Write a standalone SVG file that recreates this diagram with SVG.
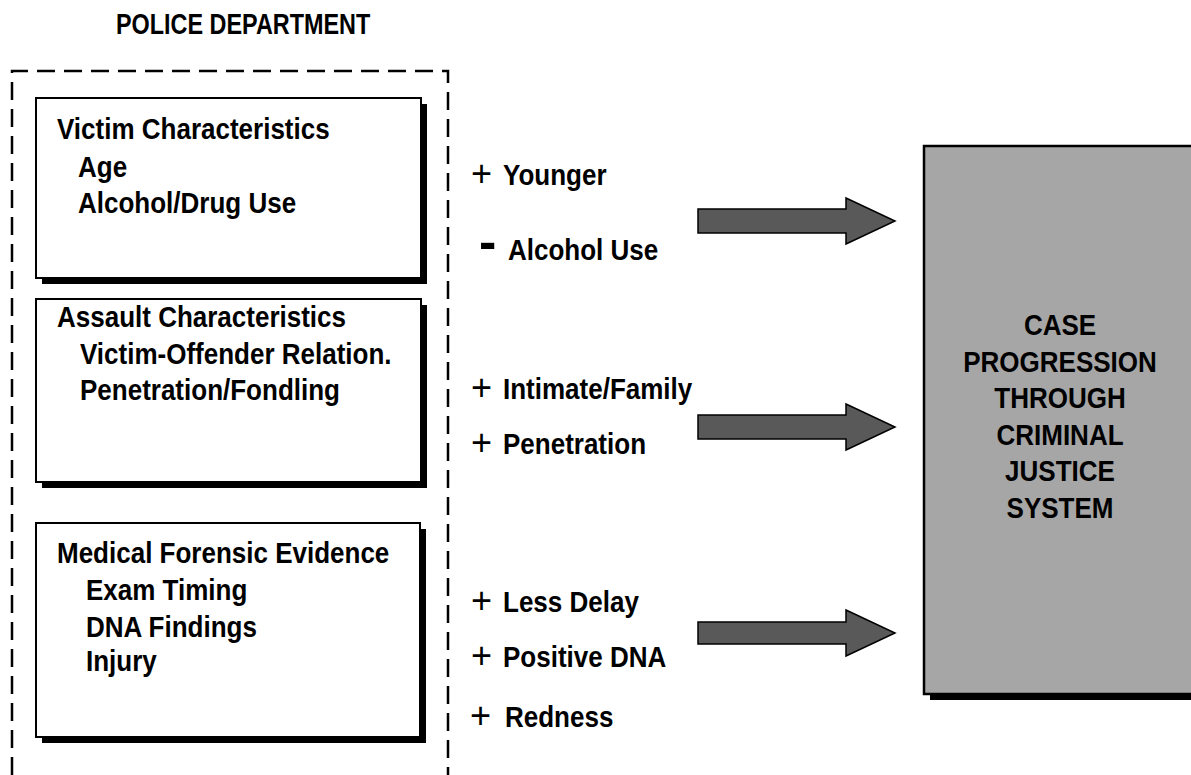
<svg xmlns="http://www.w3.org/2000/svg" width="1191" height="775" viewBox="0 0 1191 775">
  <style>
    .t { font-family: "Liberation Sans", Arial, Helvetica, sans-serif; font-weight: bold; font-size: 30px; fill: #000; }
    .sign { font-family: "Liberation Sans", Arial, Helvetica, sans-serif; font-size: 36px; fill: #000; }
    .minus { font-family: "Liberation Sans", Arial, Helvetica, sans-serif; font-weight: bold; font-size: 52px; fill: #000; }
    .box { fill: #fff; stroke: #000; stroke-width: 2; }
    .shadow { fill: #000; }
    .target { fill: #a6a6a6; stroke: #000; stroke-width: 2.5; }
    .arrow { fill: #595959; stroke: #000; stroke-width: 1.5; stroke-linejoin: miter; }
    .dept { fill: none; stroke: #000; stroke-width: 2.5; stroke-dasharray: 18 9; }
  </style>

  <rect width="1191" height="775" fill="#fff"/>

  <!-- police department boundary, open at the bottom -->
  <g id="police-department">
    <text class="t" transform="translate(116 34) scale(0.78 1)">POLICE DEPARTMENT</text>
    <path class="dept" d="M12,775 V71 H448 V775"/>
  </g>

  <!-- factor boxes -->
  <g id="victim-characteristics">
    <rect class="shadow" x="42" y="104" width="385" height="180"/>
    <rect class="box" x="36" y="98" width="385" height="180"/>
    <text class="t" transform="translate(57 139) scale(0.867 1)">Victim Characteristics</text>
    <text class="t" transform="translate(78 177) scale(0.867 1)">Age</text>
    <text class="t" transform="translate(78 213) scale(0.867 1)">Alcohol/Drug Use</text>
  </g>

  <g id="assault-characteristics">
    <rect class="shadow" x="42" y="305" width="385" height="183"/>
    <rect class="box" x="36" y="299" width="385" height="183"/>
    <text class="t" transform="translate(57 327) scale(0.867 1)">Assault Characteristics</text>
    <text class="t" transform="translate(80 364) scale(0.867 1)">Victim-Offender Relation.</text>
    <text class="t" transform="translate(80 400) scale(0.867 1)">Penetration/Fondling</text>
  </g>

  <g id="medical-forensic-evidence">
    <rect class="shadow" x="42" y="529" width="384" height="214"/>
    <rect class="box" x="36" y="523" width="384" height="214"/>
    <text class="t" transform="translate(57 563) scale(0.867 1)">Medical Forensic Evidence</text>
    <text class="t" transform="translate(86 600) scale(0.867 1)">Exam Timing</text>
    <text class="t" transform="translate(86 637) scale(0.867 1)">DNA Findings</text>
    <text class="t" transform="translate(86 671) scale(0.867 1)">Injury</text>
  </g>

  <!-- outcome box, running off the right edge -->
  <g id="case-progression">
    <rect class="shadow" x="930" y="152" width="280" height="548"/>
    <rect class="target" x="924" y="146" width="280" height="548"/>
    <g text-anchor="middle">
      <text class="t" transform="translate(1060 335) scale(0.867 1)">CASE</text>
      <text class="t" transform="translate(1060 371.5) scale(0.867 1)">PROGRESSION</text>
      <text class="t" transform="translate(1060 408) scale(0.867 1)">THROUGH</text>
      <text class="t" transform="translate(1060 444.5) scale(0.867 1)">CRIMINAL</text>
      <text class="t" transform="translate(1060 481) scale(0.867 1)">JUSTICE</text>
      <text class="t" transform="translate(1060 517.5) scale(0.867 1)">SYSTEM</text>
    </g>
  </g>

  <!-- effect labels -->
  <g id="victim-effects">
    <text class="sign" x="471" y="186">+</text>
    <text class="t" transform="translate(503 185) scale(0.867 1)">Younger</text>
    <text class="minus" x="479" y="259">-</text>
    <text class="t" transform="translate(508 260) scale(0.867 1)">Alcohol Use</text>
  </g>

  <g id="assault-effects">
    <text class="sign" x="471" y="400">+</text>
    <text class="t" transform="translate(503 399) scale(0.867 1)">Intimate/Family</text>
    <text class="sign" x="471" y="455">+</text>
    <text class="t" transform="translate(503 454) scale(0.867 1)">Penetration</text>
  </g>

  <g id="evidence-effects">
    <text class="sign" x="471" y="613">+</text>
    <text class="t" transform="translate(503 612) scale(0.867 1)">Less Delay</text>
    <text class="sign" x="471" y="668">+</text>
    <text class="t" transform="translate(503 667) scale(0.867 1)">Positive DNA</text>
    <text class="sign" x="470" y="728" font-size="42">+</text>
    <text class="t" transform="translate(505 727) scale(0.867 1)">Redness</text>
  </g>

  <!-- block arrows into the outcome box -->
  <g id="connectors">
    <polygon class="arrow" points="698,209 846,209 846,198 895,221 846,244 846,233 698,233"/>
    <polygon class="arrow" points="698,415 846,415 846,404 895,427 846,450 846,439 698,439"/>
    <polygon class="arrow" points="698,622 846,622 846,610 895,633 846,656 846,644 698,644"/>
  </g>
</svg>
